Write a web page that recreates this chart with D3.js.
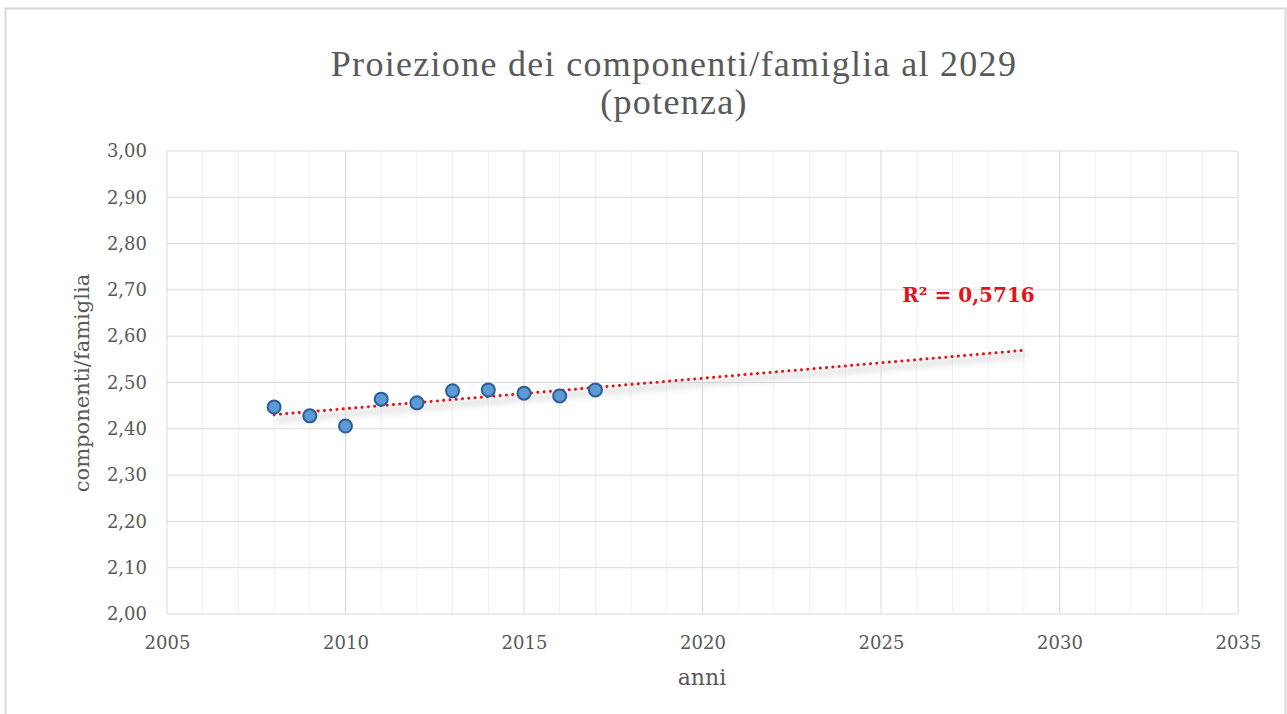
<!DOCTYPE html>
<html>
<head>
<meta charset="utf-8">
<script src="https://cdn.jsdelivr.net/npm/d3@7"></script>
<style>
body{margin:0;background:#fff;}
text{font-family:"Liberation Serif","DejaVu Serif",serif;fill:#595959;}
.dv{font-family:"DejaVu Serif",serif;}
</style>
</head>
<body>
<svg id="chart" width="1287" height="714"></svg>
<script>
// data
var anni = [2008,2009,2010,2011,2012,2013,2014,2015,2016,2017];
var componenti = [2.447,2.428,2.406,2.464,2.456,2.482,2.484,2.477,2.471,2.484];
var yTicks = [2.0,2.1,2.2,2.3,2.4,2.5,2.6,2.7,2.8,2.9,3.0];
var xTicks = [2005,2010,2015,2020,2025,2030,2035];
var trendEnd = 2029;
var r2Label = 'R² = 0,5716';

var svg = d3.select('#chart');
var margin = {left:167,right:49,top:151,bottom:100};
var width = +svg.attr('width'), height = +svg.attr('height');
var innerwidth = width - margin.left - margin.right;
var innerheight = height - margin.top - margin.bottom;

// outer frame
svg.append('rect').attr('x',5.5).attr('y',8.5).attr('width',1280).attr('height',720)
	.attr('fill','none').attr('stroke','#d9d9d9').attr('stroke-width',2);

var xscale = d3.scaleLinear().domain([2005,2035]).range([0,innerwidth]);
var yscale = d3.scaleLinear().domain([2,3]).range([innerheight,0]);

var g = svg.append('g').attr('transform',`translate(${margin.left},${margin.top})`);

// minor vertical grid (every year)
g.append('g').selectAll('line').data(d3.range(2005,2036).filter(d => d%5 != 0))
	.enter().append('line')
	.attr('x1',d => xscale(d)).attr('x2',d => xscale(d))
	.attr('y1',0).attr('y2',innerheight)
	.attr('stroke','#efefef').attr('stroke-width',1);

// major grid
g.append('g').selectAll('line').data(xTicks)
	.enter().append('line')
	.attr('x1',d => xscale(d)).attr('x2',d => xscale(d))
	.attr('y1',0).attr('y2',innerheight)
	.attr('stroke','#dadada').attr('stroke-width',1);
g.append('g').selectAll('line').data(yTicks)
	.enter().append('line')
	.attr('x1',0).attr('x2',innerwidth)
	.attr('y1',d => yscale(d)).attr('y2',d => yscale(d))
	.attr('stroke','#dadada').attr('stroke-width',1);

// axes
var yaxis = g.append('g').call(d3.axisLeft(yscale).tickValues(yTicks).tickSize(0).tickPadding(20)
	.tickFormat(d => d3.format('.2f')(d).replace('.',',')));
yaxis.select('.domain').remove();
yaxis.selectAll('text').attr('class','dv').style('font-size','18px').attr('fill','#595959');

var xaxis = g.append('g').attr('transform',`translate(0,${innerheight})`)
	.call(d3.axisBottom(xscale).tickValues(xTicks).tickSize(0).tickPadding(22).tickFormat(d3.format('d')));
xaxis.select('.domain').remove();
xaxis.selectAll('text').attr('class','dv').style('font-size','18px').attr('fill','#595959');

// power trend: ln y = ln a + b ln x
var lx = anni.map(Math.log), ly = componenti.map(Math.log);
var mx = d3.mean(lx), my = d3.mean(ly);
var b = d3.sum(lx,(v,i) => (v-mx)*(ly[i]-my)) / d3.sum(lx,v => (v-mx)*(v-mx));
var a = Math.exp(my - b*mx);
var trend = d3.range(anni[0],trendEnd+0.01,0.5).map(x => [x, a*Math.pow(x,b)]);
var tline = d3.line().x(d => xscale(d[0])).y(d => yscale(d[1]));

var defs = svg.append('defs');
var f = defs.append('filter').attr('id','blur').attr('x','-10%').attr('y','-200%').attr('width','120%').attr('height','500%');
f.append('feGaussianBlur').attr('stdDeviation',3);

g.append('path').datum(trend).attr('d',tline).attr('fill','none')
	.attr('stroke','#c8c8c8').attr('stroke-width',5).attr('opacity',0.6)
	.attr('transform','translate(2,5)').attr('filter','url(#blur)');
g.append('path').datum(trend).attr('d',tline).attr('fill','none')
	.attr('stroke','#e3141b').attr('stroke-width',3).attr('stroke-linecap','round')
	.attr('stroke-dasharray','0.1 6.2');

// points
g.append('g').selectAll('circle').data(anni)
	.enter().append('circle')
	.attr('cx',d => xscale(d))
	.attr('cy',(d,i) => yscale(componenti[i]))
	.attr('r',6.5)
	.attr('fill','#5b9bd5').attr('stroke','#2e5c97').attr('stroke-width',2);

// R2 label
g.append('text').attr('class','dv').attr('x',xscale(2027.45)).attr('y',yscale(2.674))
	.attr('text-anchor','middle').style('font-size','20px').style('font-weight','bold')
	.style('fill','#e3141b').text(r2Label);

// titles
svg.append('text').attr('x',674).attr('y',76).attr('text-anchor','middle')
	.style('font-size','36px').style('letter-spacing','1.3px').text('Proiezione dei componenti/famiglia al 2029');
svg.append('text').attr('x',674).attr('y',114).attr('text-anchor','middle')
	.style('font-size','36px').style('letter-spacing','1.3px').text('(potenza)');
svg.append('text').attr('class','dv').attr('x',702).attr('y',685).attr('text-anchor','middle')
	.style('font-size','22px').text('anni');
svg.append('text').attr('class','dv').attr('transform','translate(89,383) rotate(-90)').attr('text-anchor','middle')
	.style('font-size','21px').text('componenti/famiglia');
</script>
</body>
</html>
